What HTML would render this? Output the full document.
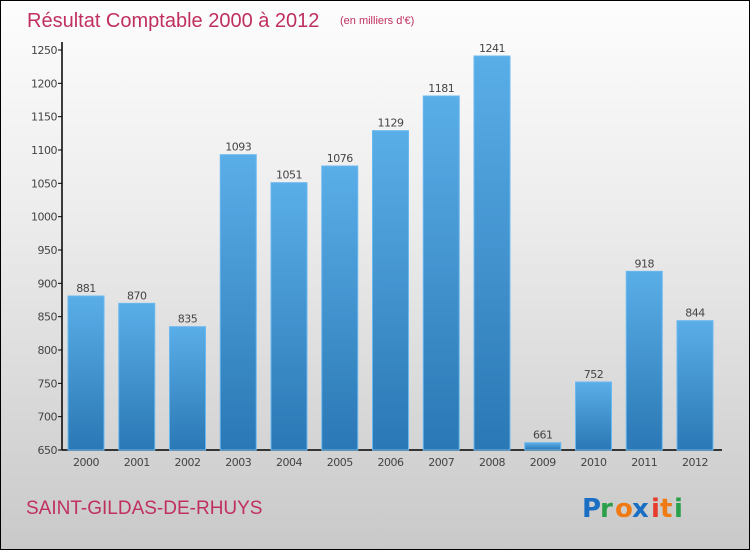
<!DOCTYPE html>
<html><head><meta charset="utf-8"><style>
html,body{margin:0;padding:0;}
body{width:750px;height:550px;overflow:hidden;font-family:"DejaVu Sans","Liberation Sans",sans-serif;}
#frame{position:absolute;left:0;top:0;width:748px;height:548px;border:1px solid #000;background:linear-gradient(#fdfdfd 0%,#ececec 40%,#c9c9c9 100%);}
</style></head><body>
<div id="frame">
<svg id="chart" width="750" height="550" style="position:absolute;left:-1px;top:-1px">
<defs>
<linearGradient id="bg" x1="0" y1="0" x2="0" y2="1"><stop offset="0" stop-color="#5aaee8"/><stop offset="1" stop-color="#2a78b5"/></linearGradient>
</defs>
<text x="27" y="27" font-size="20" fill="#c0305e" font-family="Liberation Sans, sans-serif">Résultat Comptable 2000 à 2012</text>
<text x="340" y="24" font-size="11" fill="#c0305e" font-family="Liberation Sans, sans-serif">(en milliers d'€)</text>
<text x="26" y="514" font-size="19" fill="#c0305e" font-family="Liberation Sans, sans-serif">SAINT-GILDAS-DE-RHUYS</text>
<g font-family="DejaVu Sans, sans-serif" font-size="26" font-weight="bold">
<text x="582" y="517" fill="#1a6fc4">P</text><text x="600" y="517" fill="#2aa04a">r</text><text x="615" y="517" fill="#f07b14">o</text><text x="632" y="517" fill="#1a6fc4">x</text><text x="651" y="517" fill="#e63c2e">i</text><text x="660" y="517" fill="#f07b14">t</text><text x="674" y="517" fill="#2aa04a">i</text>
</g>
<g id="plot"></g>
</svg>
</div>
<script>
const years=["2000","2001","2002","2003","2004","2005","2006","2007","2008","2009","2010","2011","2012"];
const values=[881,870,835,1093,1051,1076,1129,1181,1241,661,752,918,844];
const yTicks=[650,700,750,800,850,900,950,1000,1050,1100,1150,1200,1250];
const NS="http://www.w3.org/2000/svg";
const g=document.getElementById('plot');
const yMin=650,yMax=1250,y0=450,y1=50,xL=62,xR=722;
function y(v){return y0-(v-yMin)/(yMax-yMin)*(y0-y1);}
function xc(i){return 86+i*(695-86)/(years.length-1);}
function mk(t,a){const e=document.createElementNS(NS,t);for(const k in a)e.setAttribute(k,a[k]);g.appendChild(e);return e;}
const ax=mk('line',{x1:xL,y1:42,x2:xL,y2:y0,stroke:'#000','stroke-width':1.5});


const bx=mk('line',{x1:xL,y1:y0,x2:xR,y2:y0,stroke:'#000','stroke-width':1.5});


yTicks.forEach(v=>{
 const t=mk('line',{x1:xL-4,y1:y(v),x2:xL,y2:y(v),stroke:'#000'});
 
 
 const l=mk('text',{x:xL-5,y:y(v)+4,'text-anchor':'end','font-size':11,fill:'#444','letter-spacing':'-0.5'});
 l.textContent=v;
 
 
});
years.forEach((yr,i)=>{
 const v=values[i],cx=xc(i),w=36;
 const r=mk('rect',{x:cx-w/2,y:y(v),width:w,height:y0-y(v),fill:'url(#bg)',stroke:'#6ab8f0','stroke-width':1});
 
 
 const vl=mk('text',{x:cx,y:y(v)-4,'text-anchor':'middle','font-size':11,fill:'#444','letter-spacing':'-0.5'});
 vl.textContent=v;
 
 
 const xl=mk('text',{x:cx,y:y0+16,'text-anchor':'middle','font-size':11,fill:'#444','letter-spacing':'-0.5'});
 xl.textContent=yr;
 
 
});
</script>
</body></html>
